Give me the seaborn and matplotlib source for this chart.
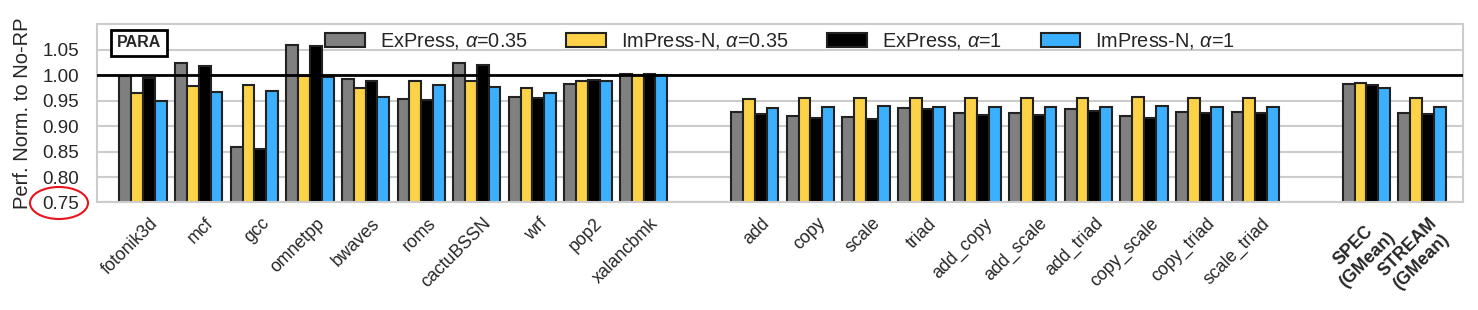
import matplotlib
matplotlib.use('Agg')

import pandas as pd
import numpy as np
import matplotlib.pyplot as plt
import matplotlib.transforms as mtrans
import seaborn as sns
from matplotlib.patches import Ellipse

# benchmarks
spec = ['fotonik3d', 'mcf', 'gcc', 'omnetpp', 'bwaves', 'roms', 'cactuBSSN', 'wrf', 'pop2', 'xalancbmk']
stream = ['add', 'copy', 'scale', 'triad', 'add_copy', 'add_scale', 'add_triad', 'copy_scale', 'copy_triad', 'scale_triad']
gmean = ['SPEC\n(GMean)', 'STREAM\n(GMean)']
benchmarks = spec + stream + gmean

configs = ['ExPress, $\\alpha$=0.35', 'ImPress-N, $\\alpha$=0.35', 'ExPress, $\\alpha$=1', 'ImPress-N, $\\alpha$=1']
colors = ['#808080', '#FDD247', '#000000', '#3AB0FF']

express_035 = [0.998, 1.024, 0.859, 1.059, 0.992, 0.953, 1.025, 0.958, 0.982, 1.002,
               0.928, 0.920, 0.918, 0.936, 0.925, 0.925, 0.934, 0.920, 0.928, 0.928,
               0.983, 0.926]
impress_035 = [0.966, 0.979, 0.980, 0.998, 0.975, 0.988, 0.988, 0.976, 0.988, 1.000,
               0.954, 0.956, 0.956, 0.956, 0.955, 0.956, 0.955, 0.957, 0.955, 0.956,
               0.984, 0.955]
express_1 = [0.994, 1.019, 0.856, 1.057, 0.989, 0.951, 1.020, 0.955, 0.991, 1.003,
             0.924, 0.917, 0.915, 0.933, 0.922, 0.922, 0.930, 0.917, 0.925, 0.925,
             0.981, 0.923]
impress_1 = [0.950, 0.968, 0.970, 0.996, 0.958, 0.981, 0.978, 0.965, 0.989, 1.000,
             0.935, 0.938, 0.939, 0.938, 0.937, 0.938, 0.937, 0.940, 0.937, 0.938,
             0.976, 0.937]

series = [express_035, impress_035, express_1, impress_1]
rows = []
for cfg, vals in zip(configs, series):
    for b, v in zip(benchmarks, vals):
        rows.append({'bench': b, 'config': cfg, 'perf': v})
df = pd.DataFrame(rows)

# blank slots between the groups
order = spec + [' '] + stream + ['  '] + gmean

sns.set_theme(style='whitegrid')
plt.rcParams['font.family'] = ['Liberation Sans', 'DejaVu Sans']
plt.rcParams['mathtext.fontset'] = 'custom'
plt.rcParams['mathtext.it'] = 'Liberation Sans:italic'
plt.rcParams['mathtext.rm'] = 'Liberation Sans'

fig, ax = plt.subplots(figsize=(14.78, 3.10), dpi=100)
sns.barplot(data=df, x='bench', y='perf', hue='config', order=order, hue_order=configs,
            palette=colors, width=0.85, edgecolor='#222222', linewidth=1.5, ax=ax,
            saturation=1)

ax.axhline(1.0, color='black', linewidth=2, zorder=3)
ax.set_ylim(0.75, 1.10)
ax.set_xlim(-0.83, 23.74)
ax.set_yticks([0.75, 0.80, 0.85, 0.90, 0.95, 1.00, 1.05])
ax.set_yticklabels(['0.75', '0.80', '0.85', '0.90', '0.95', '1.00', '1.05'], fontsize=13.5)
ax.set_ylabel('Perf. Norm. to No-RP', fontsize=14.5, labelpad=7)
ax.set_xlabel('')
ax.grid(axis='x', visible=False)
ax.grid(axis='y', color='#cccccc', linewidth=1.5)
ax.set_axisbelow(True)
for s in ax.spines.values():
    s.set_color('#cccccc')
    s.set_linewidth(1.5)
ax.tick_params(axis='y', pad=13, length=0)
ax.tick_params(axis='x', pad=9, length=0)

shift = mtrans.ScaledTranslation(6 / 100, 0, fig.dpi_scale_trans)
labels = ax.get_xticklabels()
for lab in labels:
    lab.set_rotation(45)
    lab.set_ha('right')
    lab.set_va('top')
    lab.set_rotation_mode('anchor')
    lab.set_fontsize(12.8)
    lab.set_transform(lab.get_transform() + shift)
    if 'GMean' in lab.get_text():
        lab.set_fontweight('bold')
        lab.set_multialignment('center')

leg = ax.legend(loc='center', bbox_to_anchor=(0.5, 0.905), ncol=4, frameon=False,
                fontsize=14.3, handlelength=2.0, handleheight=0.7, columnspacing=1.95,
                handletextpad=0.75, borderpad=0.2)

ax.text(0.0307, 0.898, 'PARA', transform=ax.transAxes, fontsize=11.5, fontweight='bold',
        ha='center', va='center',
        bbox=dict(boxstyle='square,pad=0.35', facecolor='white', edgecolor='black', linewidth=2))

fig.subplots_adjust(left=0.0656, right=0.99, top=0.921, bottom=0.347)

# red circle around the lowest tick label
ell = Ellipse((59 / 1478, 1 - 203 / 310), 58 / 1478, 32 / 310, transform=fig.transFigure,
              fill=False, edgecolor='#e8141c', linewidth=1.5)
fig.patches.append(ell)

fig.savefig('out.png', dpi=100)
